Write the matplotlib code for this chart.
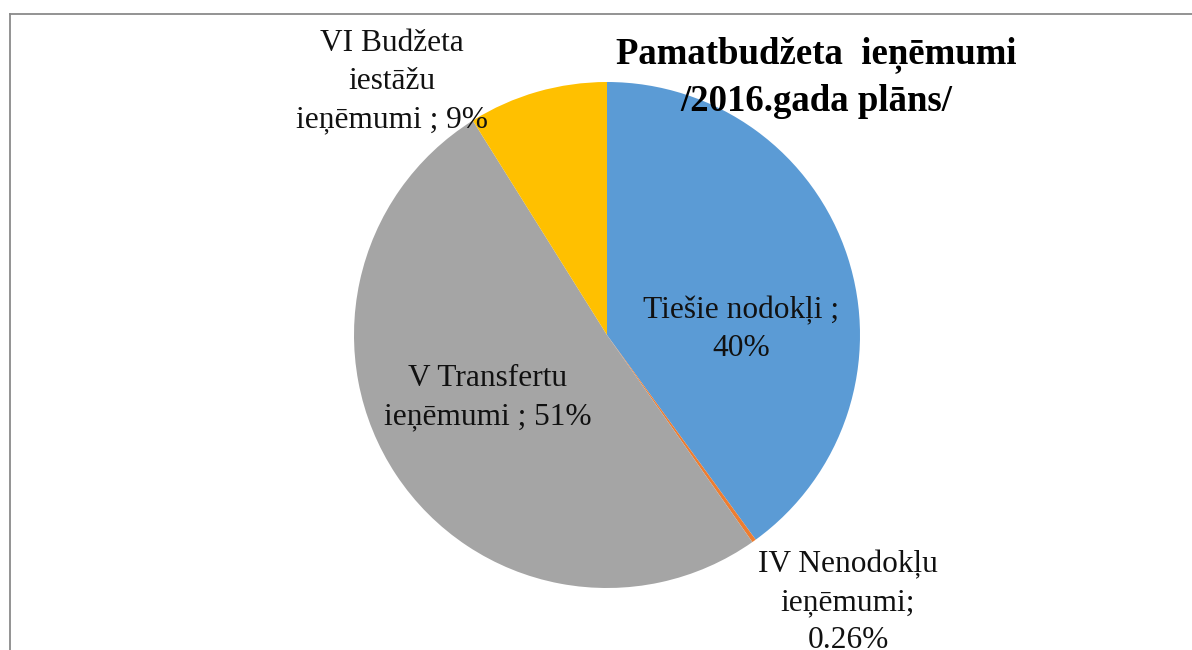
import numpy as np
import matplotlib.pyplot as plt
from matplotlib.lines import Line2D

# data (percent of plan)
categories = ['Tiešie nodokļi', 'IV Nenodokļu ieņēmumi', 'V Transfertu ieņēmumi', 'VI Budžeta iestāžu ieņēmumi']
shares = [40.0, 0.26, 50.84, 8.9]
label_texts = ['Tiešie nodokļi ;\n40%', 'IV Nenodokļu\nieņēmumi;\n0.26%',
               'V Transfertu\nieņēmumi ; 51%', 'VI Budžeta\niestāžu\nieņēmumi ; 9%']
colors = ['#5B9BD5', '#ED7D31', '#A5A5A5', '#FFC000']

title = 'Pamatbudžeta  ieņēmumi\n/2016.gada plāns/'

W, H = 1192, 650
plt.rcParams['font.family'] = ['Liberation Serif', 'DejaVu Serif']

fig = plt.figure(figsize=(W / 100, H / 100), dpi=100)

def px(x, y):
    # pixel position (from top-left) -> figure fraction
    return x / W, 1 - y / H

# pie axes: centre ~(607, 335), radius ~253 px
cx, cy, r = 607, 335, 253
ax = fig.add_axes([(cx - r) / W, (H - cy - r) / H, 2 * r / W, 2 * r / H])
ax.pie(shares, colors=colors, startangle=90, counterclock=False,
       wedgeprops=dict(linewidth=0))
ax.set_xlim(-1, 1)
ax.set_ylim(-1, 1)
ax.set_aspect('equal')
ax.axis('off')

# data labels (x centre, baseline of last line) in pixels
label_pos = [(741, 356), (848, 648), (488, 424), (392, 127)]
for txt, (x, y) in zip(label_texts, label_pos):
    fig.text(*px(x, y), txt, ha='center', va='baseline', fontsize=22.6,
             color='#111111', linespacing=1.4, multialignment='center')

fig.text(*px(816, 111), title, ha='center', va='baseline', fontsize=26.5,
         fontweight='bold', color='black', linespacing=1.4, multialignment='center')

# chart area frame (only top and left visible)
fig.add_artist(Line2D([9.5 / W, 9.5 / W], [0, 1 - 13.5 / H], color='#8a8a8a', lw=1.3))
fig.add_artist(Line2D([9.5 / W, 1], [1 - 13.5 / H, 1 - 13.5 / H], color='#8a8a8a', lw=1.3))

fig.savefig('out.png', dpi=100)
